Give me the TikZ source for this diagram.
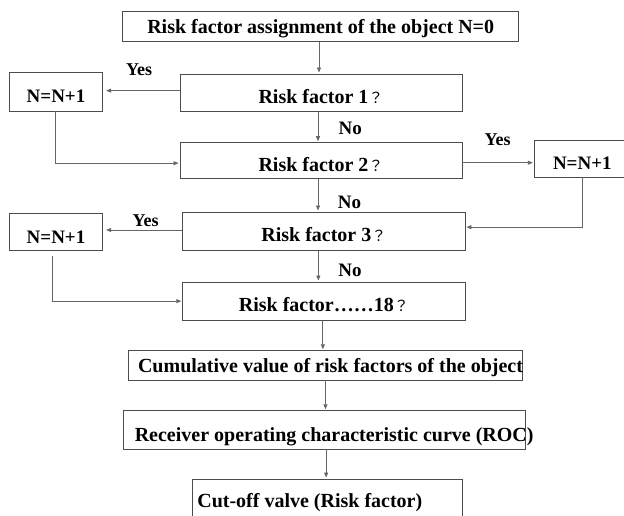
\documentclass[tikz,border=0pt]{standalone}
\usepackage{fontspec}
\setmainfont{Liberation Serif}
\newfontfamily\cjk{Noto Sans CJK TC}
\usetikzlibrary{arrows.meta}
\newcommand\boxtxt[3]{\makebox[0pt]{\hspace*{#1}\raisebox{-#2}[0pt][0pt]{#3}}}
\newcommand\qm{{\cjk\mdseries\fontsize{15}{15}\selectfont ？}}
\tikzset{
  box/.style={draw=black!70, line width=0.9pt, inner sep=0pt,
    font=\bfseries\fontsize{20}{24}\selectfont},
  nbox/.style={box, font=\bfseries\fontsize{19}{22}\selectfont},
  lab/.style={anchor=base, inner sep=0pt, font=\bfseries\fontsize{19}{22}\selectfont},
  yeslab/.style={lab, font=\bfseries\fontsize{18}{22}\selectfont},
  conn/.style={draw=black!60, line width=0.8pt},
  arr/.style={conn, -{Stealth[length=5pt,width=4pt,inset=0pt]}, shorten >=1pt},
}
\begin{document}
\begin{tikzpicture}[x=1pt,y=-1pt]
\useasboundingbox (0,0) rectangle (624,516);
% boxes
\node[box, minimum width=396pt, minimum height=30pt] (top) at (320.7,26.7)
  {\boxtxt{0pt}{6.6pt}{Risk factor assignment of the object N=0}};
\node[box, minimum width=282pt, minimum height=37.7pt] (rf1) at (321,92.85)
  {\boxtxt{0pt}{10.5pt}{Risk factor 1\qm}};
\node[nbox, minimum width=93.4pt, minimum height=38.7pt] (nl1) at (56,91.65)
  {\boxtxt{0pt}{11pt}{N=N+1}};
\node[box, minimum width=282pt, minimum height=36pt] (rf2) at (321,160.7)
  {\boxtxt{0pt}{10.5pt}{Risk factor 2\qm}};
\node[nbox, minimum width=96pt, minimum height=37pt] (nr) at (582.3,158.5)
  {\boxtxt{0pt}{11.5pt}{N=N+1}};
\node[box, minimum width=282.3pt, minimum height=38.3pt] (rf3) at (323.85,231.15)
  {\boxtxt{0pt}{10.5pt}{Risk factor 3\qm}};
\node[nbox, minimum width=93.4pt, minimum height=36.6pt] (nl2) at (56,232)
  {\boxtxt{0pt}{11pt}{N=N+1}};
\node[box, minimum width=282.3pt, minimum height=38.3pt] (rf18) at (323.85,301.15)
  {\boxtxt{0pt}{10.5pt}{Risk factor……18\qm}};
\node[box, minimum width=394.4pt, minimum height=29.3pt] (cum) at (325.5,365.35)
  {\boxtxt{10pt}{7pt}{Cumulative value of risk factors of the object}};
\node[box, minimum width=401.7pt, minimum height=38.3pt] (roc) at (324.15,429.85)
  {\boxtxt{20pt}{11.4pt}{Receiver operating characteristic curve (ROC)}};
\node[box, minimum width=270pt, minimum height=46pt] (cut) at (327.3,502)
  {\boxtxt{-35pt}{5.3pt}{Cut-off valve (Risk factor)}};
% labels
\node[yeslab] (yes1) at (139.2,76) {Yes};
\node[lab] (no1) at (350.3,135) {No};
\node[yeslab] (yes2) at (497.7,146) {Yes};
\node[lab] (no2) at (349.6,208.3) {No};
\node[yeslab] (yes3) at (145.7,226.3) {Yes};
\node[lab] (no3) at (350,276) {No};
% vertical main flow
\draw[arr] ([xshift=-1.7pt]top.south) -- ([xshift=-1.7pt]top.south |- rf1.north);
\draw[arr] ([xshift=-3pt]rf1.south) -- ([xshift=-3pt]rf1.south |- rf2.north);
\draw[arr] ([xshift=-3pt]rf2.south) -- ([xshift=-3pt]rf2.south |- rf3.north);
\draw[arr] ([xshift=-5.5pt]rf3.south) -- ([xshift=-5.5pt]rf3.south |- rf18.north);
\draw[arr] ([xshift=-1pt]rf18.south) -- ([xshift=-1pt]rf18.south |- cum.north);
\draw[arr] (cum.south) -- (cum.south |- roc.north);
\draw[arr] ([xshift=2pt]roc.south) -- ([xshift=2pt]roc.south |- cut.north);
% yes branches
\draw[arr, shorten >=3pt] ([yshift=1pt]rf1.west |- nl1.east) -- ([yshift=1pt]nl1.east);
\draw[arr] ([xshift=-1pt]nl1.south) |- ([yshift=-2.5pt]rf2.west);
\draw[arr] ([yshift=-2pt]rf2.east) -- ([yshift=-2pt]rf2.east -| nr.west);
\draw[arr] (nr.south) |- ([yshift=4pt]rf3.east);
\draw[arr, shorten >=3pt] ([yshift=2pt]rf3.west |- nl2.east) -- ([yshift=2pt]nl2.east);
\draw[arr] ([xshift=-3.7pt,yshift=-5pt]nl2.south) |- (rf18.west);
\end{tikzpicture}
\end{document}
